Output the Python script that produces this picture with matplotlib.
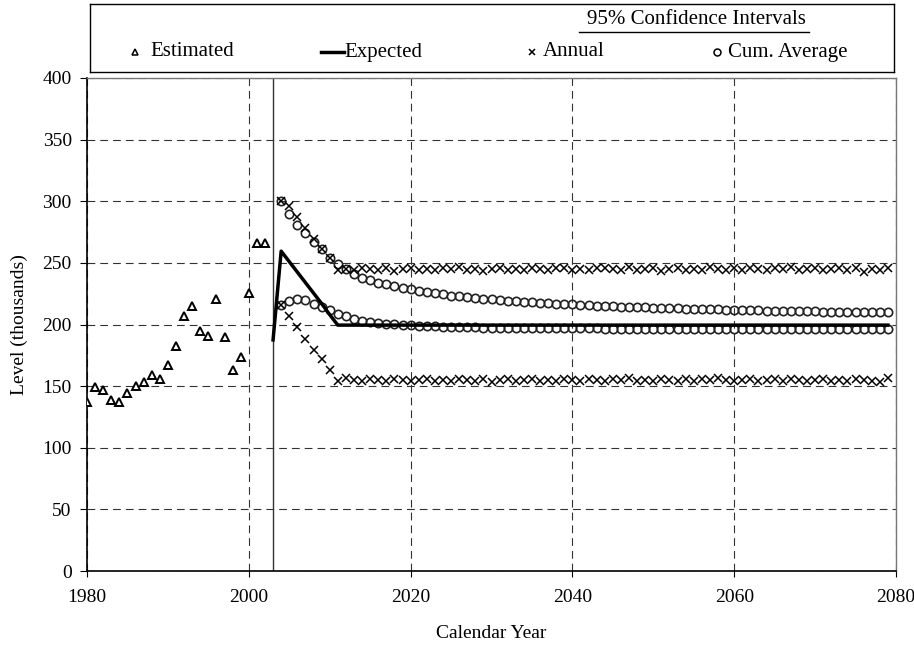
import numpy as np
import matplotlib
matplotlib.use('Agg')
import matplotlib.pyplot as plt

plt.rcParams['font.family'] = ['Liberation Serif', 'DejaVu Serif']

# ---------------- data ----------------
est_years = np.arange(1980, 2003)
estimated = [137, 149, 147, 138.5, 137.5, 144.5, 150.5, 153, 159, 156,
             167, 182.5, 207, 215, 194.5, 190.5, 220.5, 190, 163, 174,
             225.5, 266, 266]

proj_start = 2003

exp_years = np.arange(2003, 2080)
expected = [187.5,
            259.5, 251, 242.5, 234, 225.5, 217, 208, 199.5, 199.5, 199.5,
            199.5, 199.5, 199.5, 199.5, 199.5, 199.5, 199.5, 199.5, 199.5, 199.5,
            199.5, 199.5, 199.5, 199.5, 199.5, 199.5, 199.5, 199.5, 199.5, 199.5,
            199.5, 199.5, 199.5, 199.5, 199.5, 199.5, 199.5, 199.5, 199.5, 199.5,
            199.5, 199.5, 199.5, 199.5, 199.5, 199.5, 199.5, 199.5, 199.5, 199.5,
            199.5, 199.5, 199.5, 199.5, 199.5, 199.5, 199.5, 199.5, 199.5, 199.5,
            199.5, 199.5, 199.5, 199.5, 199.5, 199.5, 199.5, 199.5, 199.5, 199.5,
            199.5, 199.5, 199.5, 199.5, 199.5, 199.5]

ci_years = np.arange(2004, 2080)
upper_annual = [300, 296, 287, 278, 269, 261, 254, 244.5, 245, 244,
                246, 245, 244, 245.5, 243.5, 245, 246, 244, 245, 244.5,
                246, 245, 247, 244, 245, 243.5, 245, 246, 244.5, 245,
                244, 246, 245, 244.5, 245.5, 246, 244, 245, 244, 245.5,
                246, 245, 244, 246.5, 244, 245, 245.5, 243.5, 245, 246,
                244, 245, 244.5, 247, 245, 244, 245.5, 244, 246, 245,
                244.5, 246, 245, 247, 244, 245, 246, 244.5, 245, 246,
                244, 245.5, 243, 245, 244.5, 246]
lower_annual = [216, 207, 198, 188, 179, 172, 163, 154, 156.5, 155,
                154, 155.5, 155, 154, 156, 155, 154.5, 155, 156, 154,
                155, 154.5, 156, 155, 154, 155.5, 153.5, 155, 156, 154.5,
                155, 156, 154, 155, 154.5, 156, 155, 154, 155.5, 155,
                154, 156, 155, 156.5, 154, 155, 154.5, 156, 155, 154,
                155.5, 154, 156, 155, 156.5, 155, 154, 155, 156, 154.5,
                155, 156, 154, 155.5, 155, 154, 155, 156, 154.5, 155,
                154, 155.5, 155, 154, 153.5, 156.5]
upper_cum = [300, 290, 281, 274, 267, 261, 254, 249, 245, 241,
             238, 236, 234, 232.5, 231, 229.5, 228.5, 227.5, 226.5, 225.5,
             224.5, 223.5, 223, 222.3, 221.6, 221, 220.4, 219.9, 219.4, 218.9,
             218.5, 218.1, 217.7, 217.3, 217, 216.6, 216.3, 216, 215.7, 215.4,
             215.1, 214.9, 214.6, 214.4, 214.1, 213.9, 213.7, 213.5, 213.3, 213.1,
             212.9, 212.7, 212.5, 212.4, 212.2, 212, 211.9, 211.7, 211.6, 211.4,
             211.3, 211.2, 211, 210.9, 210.8, 210.7, 210.6, 210.5, 210.4, 210.3,
             210.2, 210.1, 210, 209.9, 209.8, 209.8]
lower_cum = [216, 219, 221, 220, 217, 214.5, 212, 208.5, 206.5, 204.5,
             203, 202, 201.3, 200.7, 200.2, 199.7, 199.3, 199, 198.7, 198.4,
             198.2, 198, 197.8, 197.7, 197.6, 197.5, 197.4, 197.3, 197.2, 197.2,
             197.1, 197.1, 197, 197, 196.9, 196.9, 196.9, 196.8, 196.8, 196.8,
             196.7, 196.7, 196.7, 196.7, 196.6, 196.6, 196.6, 196.6, 196.6, 196.5,
             196.5, 196.5, 196.5, 196.5, 196.5, 196.5, 196.5, 196.5, 196.5, 196.5,
             196.5, 196.4, 196.4, 196.4, 196.4, 196.4, 196.4, 196.4, 196.4, 196.4,
             196.4, 196.4, 196.4, 196.4, 196.4, 196.4]

x_ticks = [1980, 2000, 2020, 2040, 2060, 2080]
y_ticks = [0, 50, 100, 150, 200, 250, 300, 350, 400]

# ---------------- figure ----------------
W, H = 914, 648
FS = 15
TFS = 14
fig = plt.figure(figsize=(W / 100, H / 100), dpi=100)
ax = fig.add_axes([87 / W, 1 - 571 / H, (896 - 87) / W, (571 - 78) / H])
ax.set_xlim(1980, 2080)
ax.set_ylim(0, 400)
ax.set_xticks(x_ticks)
ax.set_yticks(y_ticks)
ax.grid(True, color='#333333', linestyle=(0, (7, 4.5)), linewidth=0.8)
ax.set_axisbelow(True)

ax.axvline(proj_start, color='#333333', lw=1.0, zorder=1.5)

ax.plot(est_years, estimated, ls='none', marker='^', ms=6, mfc='white',
        mec='black', mew=1.4, zorder=3)
ax.plot(ci_years, upper_cum, ls='none', marker='o', ms=6, mfc='none',
        mec='#222222', mew=1.2, zorder=3)
ax.plot(ci_years, lower_cum, ls='none', marker='o', ms=6, mfc='none',
        mec='#222222', mew=1.2, zorder=3)
ax.plot(ci_years, upper_annual, ls='none', marker='x', ms=6, mec='black',
        mew=1.1, zorder=3)
ax.plot(ci_years, lower_annual, ls='none', marker='x', ms=6, mec='black',
        mew=1.1, zorder=3)
ax.plot(exp_years, expected, color='black', lw=2.5, zorder=4)

for s in ['left', 'bottom']:
    ax.spines[s].set_color('black')
    ax.spines[s].set_linewidth(1.2)
for s in ['top', 'right']:
    ax.spines[s].set_color('#777777')
    ax.spines[s].set_linewidth(1.0)

ax.tick_params(axis='x', direction='out', length=4, pad=9, labelsize=TFS)
ax.tick_params(axis='y', direction='out', length=5, pad=6, labelsize=TFS)
ax.set_xlabel('Calendar Year', fontsize=14, labelpad=14)
ax.set_ylabel('Level (thousands)', fontsize=14, labelpad=10)

# ---------------- legend box ----------------
lax = fig.add_axes([90 / W, 1 - 72 / H, (894 - 90) / W, (72 - 4) / H])
lax.set_xlim(90, 894)
lax.set_ylim(72, 4)
lax.set_xticks([])
lax.set_yticks([])
for s in lax.spines.values():
    s.set_color('black')
    s.set_linewidth(1.0)

ly = 52
lax.plot([135], [ly], ls='none', marker='^', ms=4.5, mfc='white', mec='black', mew=1.1)
lax.text(150, ly, 'Estimated', fontsize=FS, va='center', ha='left')
lax.plot([321, 344], [ly, ly], color='black', lw=2.5)
lax.text(344, ly, 'Expected', fontsize=FS, va='center', ha='left')
lax.plot([532], [ly], ls='none', marker='x', ms=5, mec='black', mew=1.1)
lax.text(543, ly, 'Annual', fontsize=FS, va='center', ha='left')
lax.plot([717], [ly], ls='none', marker='o', ms=5, mfc='none', mec='black', mew=1.1)
lax.text(728, ly, 'Cum. Average', fontsize=FS, va='center', ha='left')
lax.text(696, 20, '95% Confidence Intervals', fontsize=FS, va='center', ha='center')
lax.plot([579, 809], [32, 32], color='black', lw=1.0)

fig.savefig('out.png', dpi=100)
